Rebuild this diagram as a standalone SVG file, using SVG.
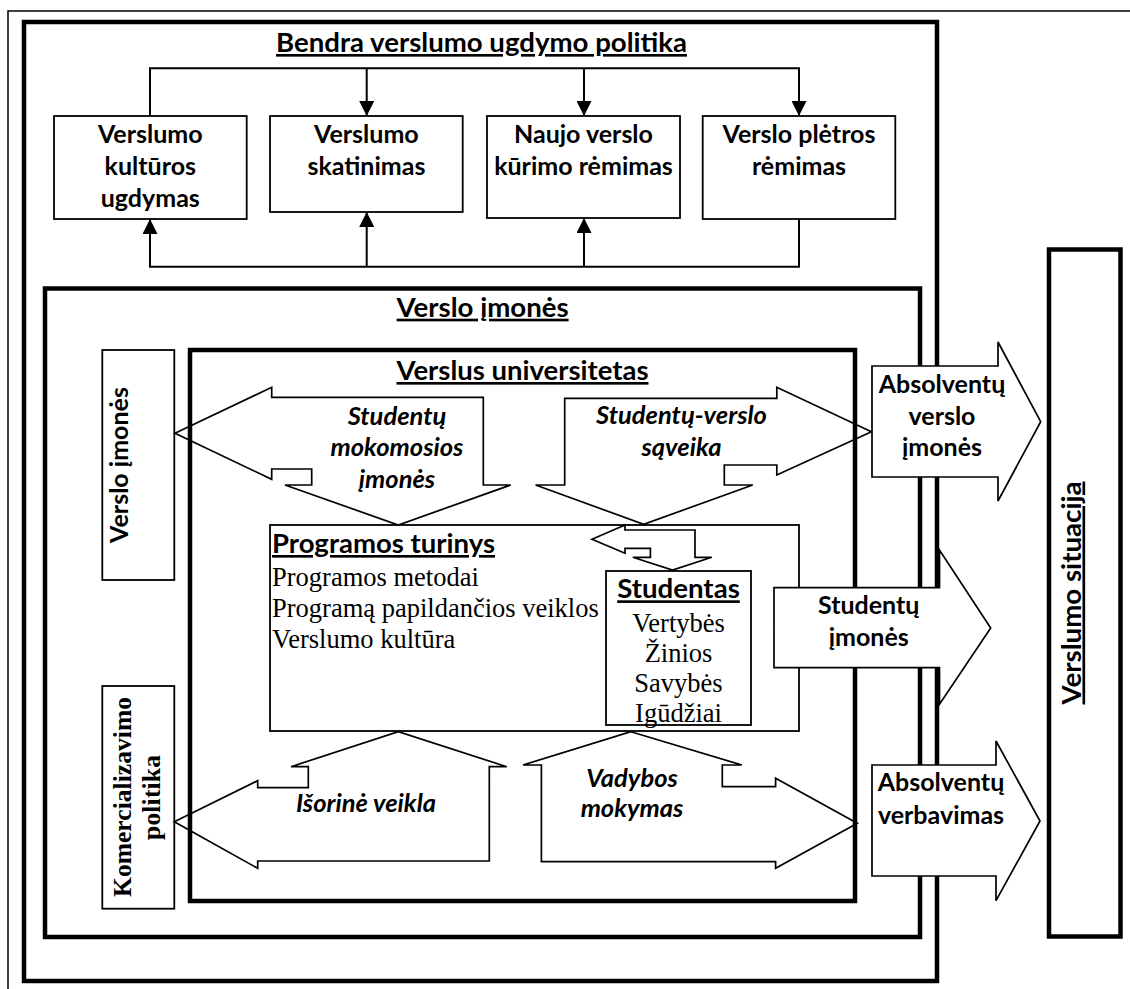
<svg xmlns="http://www.w3.org/2000/svg" width="1130" height="989" viewBox="0 0 1130 989">
<defs>
<marker id="ah" viewBox="0 0 15 15" markerWidth="15" markerHeight="15" refX="15" refY="7.5" orient="auto" markerUnits="userSpaceOnUse"><path d="M0,0 L15,7.5 L0,15 Z" fill="#000"/></marker>
</defs>
<style>
.thick{fill:none;stroke:#000;stroke-width:4.5}
.frame{fill:none;stroke:#000;stroke-width:1.5}
.box{fill:#fff;stroke:#000;stroke-width:1.8}
.blk{fill:none;stroke:#000;stroke-width:1.7;stroke-linejoin:miter}
.exit{fill:#fff;stroke:#000;stroke-width:1.7;stroke-linejoin:miter}
.conn{fill:none;stroke:#000;stroke-width:2}
.ttl{font-family:Lato,"Liberation Sans",sans-serif;font-weight:bold;font-size:26.5px;text-decoration:underline}
.lb{font-family:Lato,"Liberation Sans",sans-serif;font-weight:bold;font-size:25px;text-anchor:middle}
.it{font-family:Lato,"Liberation Sans",sans-serif;font-weight:bold;font-style:italic;font-size:25.5px;text-anchor:middle}
.tr{font-family:"Liberation Serif","Times New Roman",serif;font-size:26.5px}
.trb{font-family:"Liberation Serif","Times New Roman",serif;font-weight:bold;font-size:25.5px;text-anchor:middle}
</style>
<rect x="0" y="0" width="1130" height="989" fill="#fff"/>
<path class="frame" d="M8,989 V11 H1130"/>

<g id="bendra">
<rect class="thick" x="24" y="22" width="913" height="959"/>
<text class="ttl" x="481.5" y="52" text-anchor="middle" textLength="411" lengthAdjust="spacingAndGlyphs">Bendra verslumo ugdymo politika</text>
</g>
<g id="verslo-imones">
<rect class="thick" x="45" y="288.5" width="875" height="648.5"/>
<text class="ttl" x="482.6" y="316.7" text-anchor="middle" textLength="172" lengthAdjust="spacingAndGlyphs">Verslo įmonės</text>
</g>
<g id="universitetas">
<rect class="thick" x="190" y="350" width="665" height="551"/>
<text class="ttl" x="522.5" y="380" text-anchor="middle" textLength="252" lengthAdjust="spacingAndGlyphs">Verslus universitetas</text>
</g>
<g id="situacija">
<rect class="thick" x="1049" y="249.5" width="71.5" height="687"/>
<text class="ttl" transform="translate(1080.5,593) rotate(-90)" text-anchor="middle" textLength="223" lengthAdjust="spacingAndGlyphs">Verslumo situacija</text>
</g>

<g id="kultura">
<rect class="box" x="54" y="116" width="192.7" height="103"/>
<text class="lb" x="150.3" y="142.7">Verslumo</text>
<text class="lb" x="150.3" y="174.7">kultūros</text>
<text class="lb" x="150.3" y="206.7">ugdymas</text>
</g>
<g id="skatinimas">
<rect class="box" x="270" y="116" width="192.7" height="96"/>
<text class="lb" x="366.4" y="142.7">Verslumo</text>
<text class="lb" x="366.4" y="174.7">skatinimas</text>
</g>
<g id="naujo">
<rect class="box" x="487" y="116" width="193" height="102"/>
<text class="lb" x="583.5" y="142.7">Naujo verslo</text>
<text class="lb" x="583.5" y="174.7">kūrimo rėmimas</text>
</g>
<g id="pletros">
<rect class="box" x="702.7" y="116" width="192.6" height="103"/>
<text class="lb" x="799" y="142.7">Verslo plėtros</text>
<text class="lb" x="799" y="174.7">rėmimas</text>
</g>

<g id="connectors">
<path class="conn" d="M150,116 V68.3 H799 V116" marker-end="url(#ah)"/>
<path class="conn" d="M366.7,68.3 V116" marker-end="url(#ah)"/>
<path class="conn" d="M584,68.3 V116" marker-end="url(#ah)"/>
<path class="conn" d="M799,219 V266.7 H150 V219" marker-end="url(#ah)"/>
<path class="conn" d="M366.7,266.7 V212" marker-end="url(#ah)"/>
<path class="conn" d="M584,266.7 V218" marker-end="url(#ah)"/>
</g>

<g id="verslo-imones-side">
<rect class="box" x="102.3" y="350" width="72" height="230"/>
<text class="lb" transform="translate(128,465) rotate(-90)">Verslo įmonės</text>
</g>
<g id="komercializavimo">
<rect class="box" x="102.3" y="686" width="72" height="222.7"/>
<text class="trb" transform="translate(131,797) rotate(-90)" textLength="200">Komercializavimo</text>
<text class="trb" transform="translate(160,797.5) rotate(-90)" textLength="85">politika</text>
</g>

<g id="programos">
<rect class="box" x="270" y="525" width="529" height="206"/>
<text class="ttl" x="272" y="553" textLength="223" lengthAdjust="spacingAndGlyphs">Programos turinys</text>
<text class="tr" x="272" y="585.5">Programos metodai</text>
<text class="tr" x="272" y="616.5">Programą papildančios veiklos</text>
<text class="tr" x="272" y="647.5">Verslumo kultūra</text>
</g>
<g id="studentas">
<rect class="box" x="606" y="571" width="145" height="154"/>
<text class="ttl" x="678.5" y="598.3" text-anchor="middle" textLength="122.6" lengthAdjust="spacingAndGlyphs">Studentas</text>
<text class="tr" x="678.5" y="631.7" text-anchor="middle">Vertybės</text>
<text class="tr" x="678.5" y="661.7" text-anchor="middle">Žinios</text>
<text class="tr" x="678.5" y="691.7" text-anchor="middle">Savybės</text>
<text class="tr" x="678.5" y="721.7" text-anchor="middle">Igūdžiai</text>
</g>

<g id="mokomosios">
<polygon class="blk" points="175,433.3 271.7,387.3 271.7,397.3 483.3,397.3 483.3,485 510.7,485 398.3,525 285,485 311.7,485 311.7,469 271.7,469 271.7,479.3"/>
<text class="it" x="397" y="424.5">Studentų</text>
<text class="it" x="397" y="456">mokomosios</text>
<text class="it" x="397" y="487.5">įmonės</text>
</g>
<g id="saveika">
<polygon class="blk" points="871.4,431.7 776.8,387.3 776.8,398.3 564.7,398.3 564.7,485 535.6,485 643.7,524.3 752.7,485 724.3,485 724.3,465 776.8,465 776.8,475"/>
<text class="it" x="681.5" y="424">Studentų-verslo</text>
<text class="it" x="681.5" y="456">sąveika</text>
</g>
<g id="small-arrow">
<polygon class="blk" points="592,539.3 625,525 625,530 695,530 695,557.3 711.8,557.3 672.5,570 632.8,557.3 650.4,557.3 650.4,548.3 625,548.3 625,553.3"/>
</g>
<g id="isorine">
<polygon class="blk" points="174.3,821.7 257.7,780.7 257.7,787.7 308.3,787.7 308.3,766.7 291,766.7 398.3,731.7 506.7,766.7 489.3,766.7 489.3,861 257.7,861 257.7,868.3"/>
<text class="it" x="366" y="812.3">Išorinė veikla</text>
</g>
<g id="vadybos">
<polygon class="blk" points="630.9,731.7 741.8,765 722.3,765 722.3,786.7 775.6,786.7 775.6,778.3 857.3,823.3 775.6,868.3 775.6,861.7 541.4,861.7 541.4,765 523,765"/>
<text class="it" x="632" y="786.5">Vadybos</text>
<text class="it" x="632" y="817">mokymas</text>
</g>

<g id="absolventu-verslo">
<polygon class="exit" points="872,366 998,366 998,342 1040.7,421.7 998,501 998,477 872,477"/>
<text class="lb" x="942" y="393">Absolventų</text>
<text class="lb" x="942" y="425">verslo</text>
<text class="lb" x="942" y="456">įmonės</text>
</g>
<g id="studentu-imones">
<polygon class="exit" points="774,587.7 939.5,587.7 939.5,550 990.7,628 939.5,704.3 939.5,667.7 774,667.7"/>
<text class="lb" x="868.7" y="614">Studentų</text>
<text class="lb" x="868.7" y="646">įmonės</text>
</g>
<g id="absolventu-verbavimas">
<polygon class="exit" points="872,765 996,765 996,741 1040,821 996,900.7 996,876 872,876"/>
<text class="lb" x="941" y="790.7">Absolventų</text>
<text class="lb" x="941" y="824">verbavimas</text>
</g>
</svg>
